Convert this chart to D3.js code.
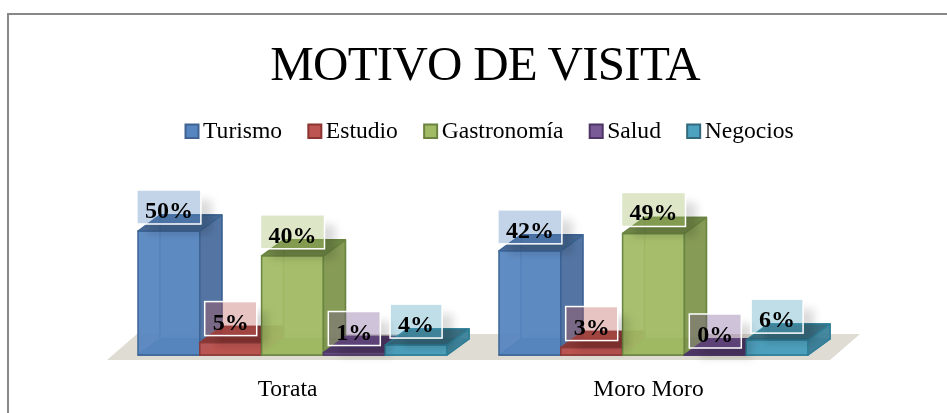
<!DOCTYPE html>
<html>
<head>
<meta charset="utf-8">
<script src="https://cdn.jsdelivr.net/npm/d3@7"></script>
<style>
html,body{margin:0;padding:0;background:#fff;}
svg{display:block;}
text{font-family:"Liberation Serif","Times New Roman",serif;fill:#000;}
</style>
</head>
<body>
<svg id="c" width="947" height="413"></svg>
<script>
const title = "MOTIVO DE VISITA";
const categories = ["Torata", "Moro Moro"];
const seriesNames = ["Turismo", "Estudio", "Gastronomía", "Salud", "Negocios"];
const torataValues = [50, 5, 40, 1, 4];
const moroMoroValues = [42, 3, 49, 0, 6];
const valuesByCategory = [torataValues, moroMoroValues];
const frontColors = ["#5685bf", "#bd5552", "#a1bb65", "#7a5a96", "#4ea3bf"];
const sideColors = ["#4d6f9e", "#a04542", "#80964f", "#5f4678", "#3d8299"];
const topColors = ["#3f6391", "#8c3431", "#6b8440", "#4d3565", "#33697c"];
const edgeColors = ["#3c6596", "#8a3a38", "#6a8540", "#4f3a68", "#2f7f98"];

const W = 947, H = 413;
const svg = d3.select("#c");
const defs = svg.append("defs");
const blur = defs.append("filter").attr("id", "sh").attr("x", "-50%").attr("y", "-50%").attr("width", "200%").attr("height", "200%");
blur.append("feGaussianBlur").attr("stdDeviation", 4.5);
const soft = defs.append("filter").attr("id", "soft").attr("filterUnits", "userSpaceOnUse")
  .attr("x", 0).attr("y", 0).attr("width", W).attr("height", H);
soft.append("feGaussianBlur").attr("stdDeviation", 0.4);

const root = svg.append("g").attr("filter", "url(#soft)");

// frame
root.append("path").attr("d", `M8,${H}V14H${W}`).attr("fill", "none").attr("stroke", "#888").attr("stroke-width", 2);

// title
root.append("text").attr("x", 485).attr("y", 79.5).attr("text-anchor", "middle")
  .attr("font-size", 49).attr("letter-spacing", -0.75).text(title);

// legend
const legend = root.append("g");
const legendItems = legend.selectAll("g").data(seriesNames).join("g");
legendItems.append("rect").attr("x", 1).attr("y", -13.5).attr("width", 13).attr("height", 13.5)
  .attr("fill", (d, i) => frontColors[i]).attr("stroke", (d, i) => topColors[i]).attr("stroke-width", 2);
legendItems.append("text").attr("x", 18.5).attr("y", 0).attr("font-size", 23.6).text(d => d);
let cursor = 184.5;
legendItems.each(function () {
  const g = d3.select(this);
  g.attr("transform", `translate(${cursor},138)`);
  cursor += 18.5 + g.select("text").node().getComputedTextLength() + 25.2;
});

// scales
const x0 = d3.scaleBand().domain(categories).range([112, 834]);
const x1 = d3.scaleBand().domain(seriesNames).range([26, 335]);
const y = d3.scaleLinear().domain([0, 50]).range([355, 231]);
const depthX = 22, depthY = -16;

const plot = root.append("g");

// floor
const base = y(0);
plot.append("path").attr("fill", "#dfdcd3").attr("d", d3.line()([
  [x0.range()[0] - 5, base + 5],
  [x0.range()[1] - 4, base + 5],
  [x0.range()[1] + 26, base - 21],
  [x0.range()[0] + 25, base - 21]
]) + "Z");

const flat = [];
categories.forEach((c, ci) => seriesNames.forEach((s, si) => {
  flat.push({ c, s, si, v: valuesByCategory[ci][si] });
}));
const poly = pts => d3.line()(pts) + "Z";

const bars = plot.selectAll("g.bar").data(flat).join("g").attr("class", "bar");
bars.each(function (d) {
  const g = d3.select(this);
  const l = x0(d.c) + x1(d.s), r = l + x1.bandwidth(), t = y(d.v), b = y(0);
  const face = (pts, fill, op) => g.append("path").attr("d", poly(pts)).attr("fill", fill)
    .attr("fill-opacity", op).attr("stroke", edgeColors[d.si]).attr("stroke-width", 1.5).attr("stroke-linejoin", "round");
  const dx = depthX, dy = depthY;
  // rear faces seen through the translucent box
  face([[l + dx, t + dy], [r + dx, t + dy], [r + dx, b + dy], [l + dx, b + dy]], frontColors[d.si], 0.3);
  face([[l, b], [r, b], [r + dx, b + dy], [l + dx, b + dy]], topColors[d.si], 0.85);
  // front, side and top
  face([[l, t], [r, t], [r, b], [l, b]], frontColors[d.si], 0.94);
  face([[r, t], [r + dx, t + dy], [r + dx, b + dy], [r, b]], sideColors[d.si], 0.94);
  face([[l, t], [l + dx, t + dy], [r + dx, t + dy], [r, t]], topColors[d.si], 0.95);
});

// data labels
const labelSize = 24, pad = 8, boxH = 34, boxGap = 41;
const labels = root.selectAll("g.lab").data(flat).join("g").attr("class", "lab");
labels.each(function (d, i) {
  const g = d3.select(this);
  const cx = x0(d.c) + x1(d.s) + x1.bandwidth() / 2;
  const top = y(d.v) - boxGap;
  const txt = g.append("text").attr("x", cx).attr("y", top + 28).attr("text-anchor", "middle")
    .attr("font-size", labelSize).attr("font-weight", "bold").text(d.v + "%");
  const w = txt.node().getComputedTextLength() + pad * 2;
  const left = cx - w / 2;
  const clipId = "cut" + i;
  defs.append("clipPath").attr("id", clipId).append("path").attr("clip-rule", "evenodd")
    .attr("d", `M0,0H${W}V${H}H0Z M${left},${top}h${w}v${boxH}h${-w}Z`);
  g.insert("g", "text").attr("clip-path", `url(#${clipId})`)
    .append("rect").attr("x", left + 11).attr("y", top + 10).attr("width", w).attr("height", boxH)
    .attr("fill", "#000").attr("fill-opacity", 0.14).attr("filter", "url(#sh)");
  g.insert("rect", "text").attr("x", left).attr("y", top).attr("width", w).attr("height", boxH)
    .attr("fill", frontColors[d.si]).attr("fill-opacity", 0.36)
    .attr("stroke", "#fff").attr("stroke-width", 1.5);
});

// category labels
root.selectAll("text.cat").data(categories).join("text").attr("class", "cat")
  .attr("x", d => x0(d) + x0.bandwidth() / 2 - 5).attr("y", 396)
  .attr("text-anchor", "middle").attr("font-size", 23.5).text(d => d);
</script>
</body>
</html>
